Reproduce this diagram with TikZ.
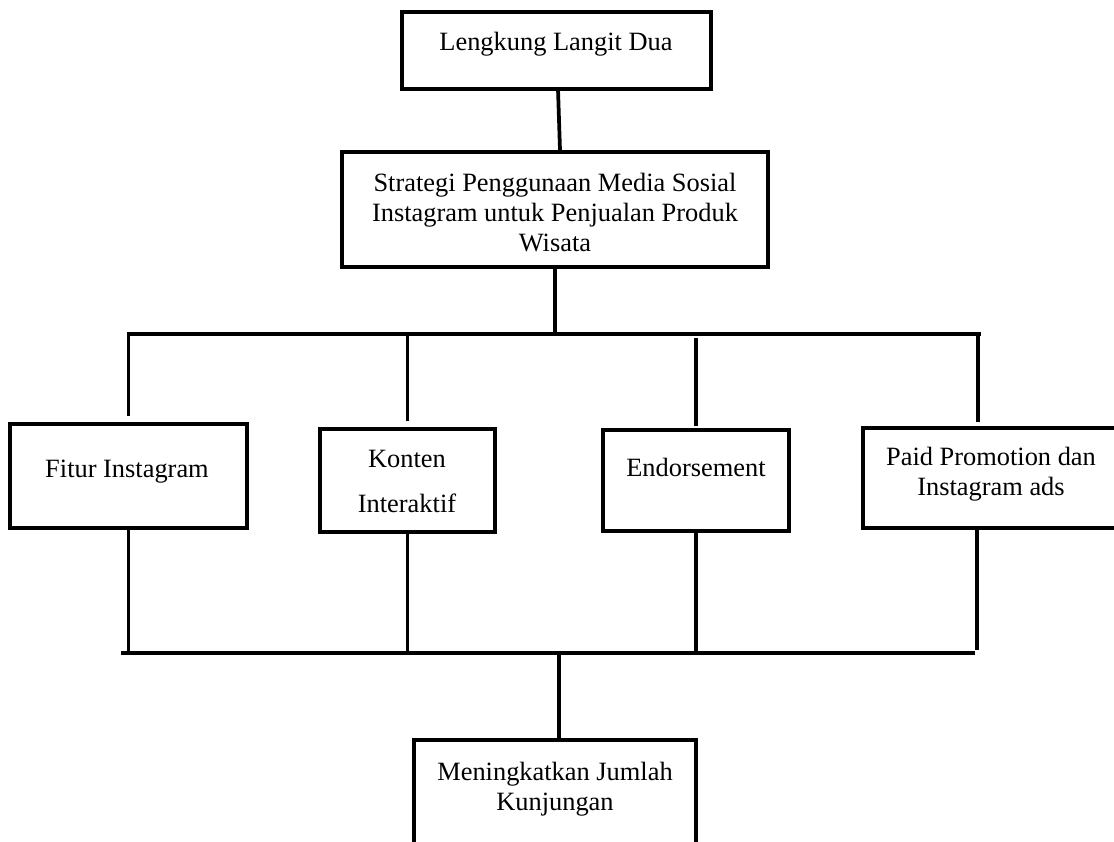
\documentclass[tikz,border=0pt]{standalone}
\usepackage{fontspec}
\setmainfont{Liberation Serif}
\usetikzlibrary{fit}
\begin{document}
\begin{tikzpicture}[x=0.75pt,y=-0.75pt,
  box/.style={draw=black,line width=2.8pt,inner sep=0pt,rectangle},
  lbl/.style={font=\fontsize{19.8}{22.5}\selectfont,align=center,inner sep=0pt},
  conn/.style={draw=black,line width=2.8pt}]
\useasboundingbox (0,0) rectangle (1114,842);
\clip (0,0) rectangle (1114,842);
\fill[white] (0,0) rectangle (1114,842);
% boxes
\node[box,fit={(402,12) (711,89)}] (top) {};
\node[box,fit={(342,152) (768,267)}] (strat) {};
\node[box,fit={(10,424) (247,528)}] (fitur) {};
\node[box,fit={(320,429) (495,532)}] (konten) {};
\node[box,fit={(603,430) (789,531)}] (endors) {};
\node[box,fit={(863,428) (1125,528)}] (paid) {};
\node[box,fit={(414,740) (696,880)}] (hasil) {};
% texts
\node[lbl] (ttop) at (556,44) {Lengkung Langit Dua};
\node[lbl] (tstrat) at (555,213) {Strategi Penggunaan Media Sosial\\Instagram untuk Penjualan Produk\\Wisata};
\node[lbl] (tfitur) at (127,472) {Fitur Instagram};
\node[lbl,font=\fontsize{19.8}{33.75}\selectfont] (tkonten) at (407,481) {Konten\\Interaktif};
\node[lbl] (tendors) at (696,467) {Endorsement};
\node[lbl] (tpaid) at (991,474) {Paid Promotion dan\\Instagram ads};
\node[lbl] (thasil) at (555,789) {Meningkatkan Jumlah\\Kunjungan};
% bus coordinates
\coordinate (tbL) at (127,334);
\coordinate (tbR) at (981,334);
\coordinate (tbC) at (555,334);
\coordinate (bbL) at (121,653);
\coordinate (bbR) at (975,653);
\coordinate (bbC) at (559,653);
% connectors
\draw[conn] (558,89) -- (strat.north -| 560,0);
\draw[conn] (strat.south) -- (tbC);
\draw[conn] (tbL) -- (tbR);
\draw[conn] ([yshift=4.5pt]fitur.north) -- (fitur.north |- tbL);
\draw[conn] ([yshift=4.5pt]konten.north) -- (konten.north |- tbL);
\draw[conn] ([yshift=1.5pt]endors.north -| 696,0) -- (696,338);
\draw[conn] ([yshift=3pt]paid.north -| 978,0) -- (978,334);
\draw[conn] (fitur.south) -- (fitur.south |- bbL);
\draw[conn] (konten.south) -- (konten.south |- bbL);
\draw[conn] (endors.south -| 696,0) -- (696,653);
\draw[conn] (paid.south -| 977,0) -- (977,650);
\draw[conn] (bbL) -- (bbR);
\draw[conn] (bbC) -- (hasil.north -| bbC);
\end{tikzpicture}
\end{document}
